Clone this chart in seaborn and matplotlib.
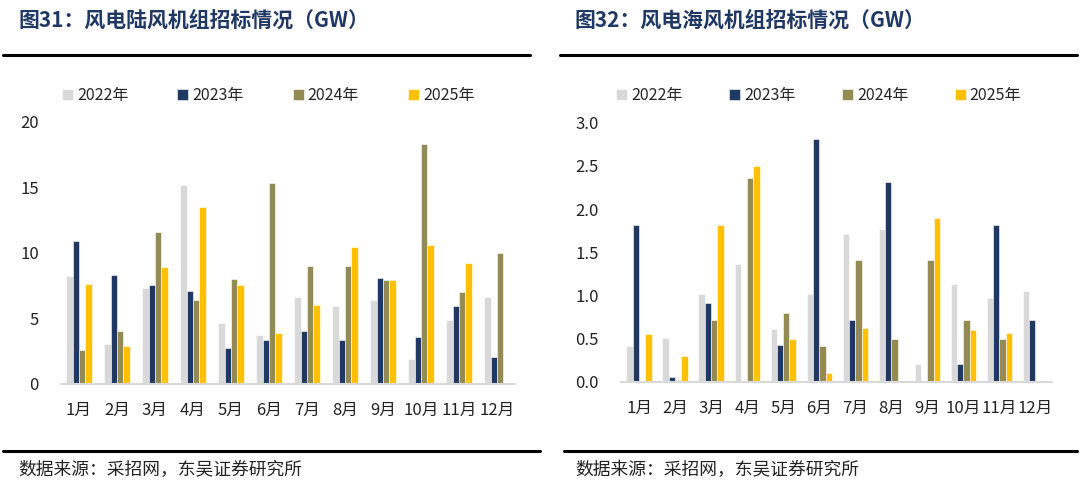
import numpy as np
import pandas as pd
import matplotlib
matplotlib.use("Agg")
import matplotlib.pyplot as plt
from matplotlib.lines import Line2D
import seaborn as sns

sns.set_theme(style="white")
plt.rcParams['font.family'] = ['Noto Sans CJK SC', 'DejaVu Sans']

months = ["1月", "2月", "3月", "4月", "5月", "6月", "7月", "8月", "9月", "10月", "11月", "12月"]
years = ["2022年", "2023年", "2024年", "2025年"]
colors = ["#D9D9D9", "#1F3864", "#948A54", "#FFC000"]

# 陆风 (GW)
onshore_2022 = [8.2, 3.0, 7.3, 15.2, 4.6, 3.7, 6.6, 5.9, 6.4, 1.9, 4.9, 6.6]
onshore_2023 = [10.9, 8.3, 7.5, 7.1, 2.75, 3.35, 4.05, 3.35, 8.05, 3.55, 5.95, 2.05]
onshore_2024 = [2.6, 4.0, 11.6, 6.4, 8.0, 15.3, 9.0, 9.0, 7.9, 18.3, 7.0, 10.0]
onshore_2025 = [7.6, 2.9, 8.9, 13.5, 7.5, 3.85, 6.0, 10.4, 7.95, 10.6, 9.2, np.nan]

# 海风 (GW)
offshore_2022 = [0.41, 0.51, 1.02, 1.36, 0.61, 1.02, 1.71, 1.77, 0.21, 1.13, 0.97, 1.05]
offshore_2023 = [1.81, 0.06, 0.91, np.nan, 0.42, 2.81, 0.71, 2.31, np.nan, 0.21, 1.81, 0.71]
offshore_2024 = [np.nan, 0.02, 0.71, 2.36, 0.80, 0.41, 1.41, 0.50, 1.41, 0.71, 0.50, np.nan]
offshore_2025 = [0.55, 0.30, 1.81, 2.50, 0.50, 0.10, 0.62, np.nan, 1.90, 0.60, 0.56, np.nan]

titles = ["图31：风电陆风机组招标情况（GW）", "图32：风电海风机组招标情况（GW）"]
source = "数据来源：采招网，东吴证券研究所"


def long_df(series):
    rows = []
    for y, vals in zip(years, series):
        for m, v in zip(months, vals):
            rows.append({"month": m, "year": y, "value": v})
    return pd.DataFrame(rows)


W, H = 1080, 483
fig = plt.figure(figsize=(W / 100, H / 100), dpi=100)


def fx(px):
    return px / W


def fy(py):
    return 1 - py / H


panels = [
    dict(data=long_df([onshore_2022, onshore_2023, onshore_2024, onshore_2025]),
         ax_l=61, ax_r=515, y0=383.7, ytop=121.7, ymax=20, yticks=[0, 5, 10, 15, 20],
         fmt="{:.0f}", xlim=(-0.47, 11.47), width=0.67,
         title_x=18, line=(3, 530), bline=(3, 540), legend_x=62, colsp=3.05),
    dict(data=long_df([offshore_2022, offshore_2023, offshore_2024, offshore_2025]),
         ax_l=621, ax_r=1052, y0=381.7, ytop=122.7, ymax=3.0, yticks=[0, 0.5, 1.0, 1.5, 2.0, 2.5, 3.0],
         fmt="{:.1f}", xlim=(-0.5, 11.46), width=0.70,
         title_x=575, line=(560, 1077), bline=(564, 1077), legend_x=616, colsp=2.9),
]

for i, p in enumerate(panels):
    ax = fig.add_axes([fx(p["ax_l"]), fy(p["y0"]), fx(p["ax_r"] - p["ax_l"]),
                       (p["y0"] - p["ytop"]) / H])
    sns.barplot(data=p["data"], x="month", y="value", hue="year", palette=colors,
                width=p["width"], errorbar=None, ax=ax, edgecolor="white",
                linewidth=0.4, saturation=1)
    ax.set_xlim(*p["xlim"])
    ax.set_ylim(0, p["ymax"])
    ax.set_yticks(p["yticks"])
    ax.set_yticklabels([p["fmt"].format(t) for t in p["yticks"]])
    ax.set_xlabel("")
    ax.set_ylabel("")
    for s in ["top", "right", "left"]:
        ax.spines[s].set_visible(False)
    ax.spines["bottom"].set_color("#D9D9D9")
    ax.spines["bottom"].set_linewidth(1.5)
    ax.tick_params(axis="y", length=0, pad=16, labelsize=12, colors="#222222")
    ax.tick_params(axis="x", length=0, pad=13, labelsize=12, colors="#222222")
    ax.grid(False)
    handles, labels = ax.get_legend_handles_labels()
    ax.legend(handles, labels, loc="center left", ncol=4,
              bbox_to_anchor=(fx(p["legend_x"]), fy(96)), bbox_transform=fig.transFigure,
              frameon=False, fontsize=11.5, handlelength=0.7, handleheight=0.7,
              handletextpad=0.25, columnspacing=p["colsp"], borderpad=0, borderaxespad=0)

    fig.text(fx(p["title_x"]), fy(20), titles[i],
             fontsize=15, fontweight="bold", color="#1F3864", va="center", ha="left")
    fig.add_artist(Line2D([fx(p["line"][0]), fx(p["line"][1])], [fy(55), fy(55)],
                          color="black", linewidth=2.2))
    fig.add_artist(Line2D([fx(p["bline"][0]), fx(p["bline"][1])], [fy(451), fy(451)],
                          color="black", linewidth=2.2))
    fig.text(fx(p["title_x"]), fy(470), source, fontsize=12.8, color="#222222",
             va="center", ha="left")

fig.savefig("out.png", dpi=100)
